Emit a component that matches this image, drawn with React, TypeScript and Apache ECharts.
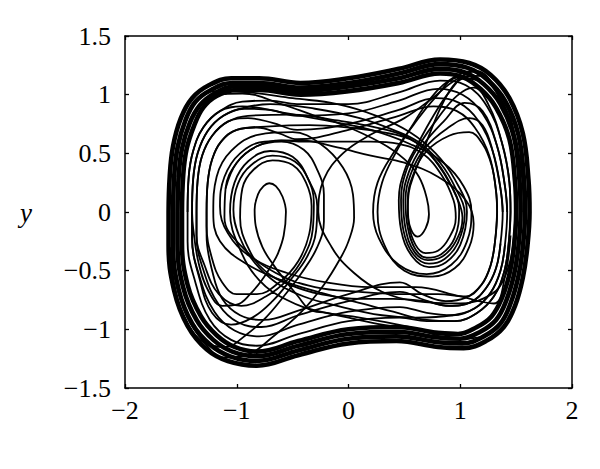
import React, { useEffect, useRef } from "react";
import * as echarts from "echarts";

type Pt = [number, number];

const xTicks = [-2, -1, 0, 1, 2];
const yTicks = [-1.5, -1, -0.5, 0, 0.5, 1, 1.5];
const axisYName = "y";

// outer band strands
const band0: Pt[] = [[-1.61,0],[-1.6,0.3],[-1.57,0.56],[-1.5,0.8],[-1.4,0.97],[-1.25,1.08],[-1.05,1.14],[-0.8,1.14],[-0.43,1.1],[0,1.14],[0.45,1.22],[0.82,1.3],[1.08,1.27],[1.27,1.17],[1.44,0.97],[1.56,0.67],[1.61,0.28],[1.62,0],[1.6,-0.3],[1.56,-0.56],[1.49,-0.8],[1.39,-0.98],[1.23,-1.1],[1.03,-1.16],[0.8,-1.15],[0.43,-1.1],[0,-1.12],[-0.45,-1.22],[-0.82,-1.31],[-1.08,-1.27],[-1.27,-1.17],[-1.44,-0.97],[-1.56,-0.67],[-1.61,-0.28],[-1.61,0]];
const band1: Pt[] = [[-1.57,0],[-1.56,0.3],[-1.53,0.55],[-1.46,0.78],[-1.37,0.94],[-1.23,1.04],[-1.04,1.1],[-0.8,1.1],[-0.43,1.06],[0,1.1],[0.45,1.18],[0.82,1.26],[1.06,1.23],[1.24,1.13],[1.4,0.95],[1.52,0.66],[1.57,0.28],[1.58,0],[1.56,-0.3],[1.52,-0.55],[1.45,-0.78],[1.36,-0.95],[1.21,-1.06],[1.02,-1.12],[0.8,-1.11],[0.43,-1.06],[0,-1.08],[-0.45,-1.18],[-0.82,-1.27],[-1.06,-1.23],[-1.24,-1.13],[-1.4,-0.95],[-1.52,-0.66],[-1.57,-0.28],[-1.57,0]];
const band2: Pt[] = [[-1.53,0],[-1.52,0.3],[-1.49,0.54],[-1.42,0.76],[-1.33,0.91],[-1.2,1.01],[-1.02,1.07],[-0.8,1.07],[-0.43,1.03],[0,1.07],[0.45,1.14],[0.82,1.22],[1.04,1.19],[1.21,1.09],[1.36,0.92],[1.48,0.64],[1.53,0.27],[1.54,0],[1.52,-0.3],[1.48,-0.54],[1.41,-0.76],[1.32,-0.92],[1.18,-1.02],[1.0,-1.08],[0.8,-1.07],[0.43,-1.02],[0,-1.04],[-0.45,-1.14],[-0.82,-1.23],[-1.04,-1.19],[-1.21,-1.09],[-1.36,-0.92],[-1.48,-0.64],[-1.53,-0.27],[-1.53,0]];
const band3: Pt[] = [[-1.49,0],[-1.48,0.3],[-1.45,0.53],[-1.38,0.74],[-1.3,0.89],[-1.18,0.99],[-1.0,1.04],[-0.8,1.04],[-0.43,1.0],[0,1.03],[0.45,1.1],[0.82,1.18],[1.02,1.15],[1.18,1.05],[1.32,0.89],[1.44,0.62],[1.49,0.26],[1.5,0],[1.48,-0.3],[1.44,-0.53],[1.37,-0.74],[1.28,-0.89],[1.15,-0.98],[0.98,-1.04],[0.8,-1.03],[0.43,-0.98],[0,-1.0],[-0.45,-1.1],[-0.82,-1.19],[-1.02,-1.15],[-1.18,-1.05],[-1.32,-0.89],[-1.44,-0.62],[-1.49,-0.26],[-1.49,0]];

// middle wavy strands
const mid1: Pt[] = [[-1.44,0],[-1.43,0.3],[-1.39,0.52],[-1.3,0.72],[-1.15,0.86],[-0.95,0.94],[-0.7,0.95],[-0.46,0.92],[0,0.92],[0.45,1.02],[0.82,1.12],[1.05,1.08],[1.24,0.9],[1.37,0.6],[1.44,0.25],[1.45,0],[1.43,-0.3],[1.39,-0.52],[1.3,-0.72],[1.15,-0.86],[0.95,-0.93],[0.7,-0.93],[0.46,-0.9],[0,-0.93],[-0.45,-1.04],[-0.82,-1.14],[-1.05,-1.09],[-1.24,-0.92],[-1.37,-0.6],[-1.44,-0.25],[-1.44,0]];
const mid2: Pt[] = [[-1.4,0],[-1.39,0.28],[-1.35,0.5],[-1.26,0.69],[-1.12,0.82],[-0.93,0.88],[-0.7,0.87],[-0.46,0.82],[0,0.84],[0.45,0.95],[0.8,1.05],[1.02,1.0],[1.2,0.84],[1.33,0.56],[1.4,0.22],[1.42,0],[1.4,-0.28],[1.36,-0.5],[1.27,-0.69],[1.13,-0.82],[0.93,-0.88],[0.7,-0.86],[0.46,-0.81],[0,-0.85],[-0.45,-0.96],[-0.8,-1.06],[-1.02,-1.01],[-1.2,-0.85],[-1.33,-0.56],[-1.4,-0.22],[-1.4,0]];
const mid3: Pt[] = [[-1.36,0],[-1.35,0.27],[-1.31,0.48],[-1.22,0.65],[-1.08,0.77],[-0.9,0.8],[-0.68,0.76],[-0.46,0.7],[0,0.75],[0.45,0.87],[0.78,0.97],[0.99,0.93],[1.16,0.78],[1.29,0.52],[1.36,0.2],[1.38,0],[1.36,-0.27],[1.32,-0.48],[1.23,-0.65],[1.09,-0.77],[0.9,-0.8],[0.68,-0.75],[0.46,-0.68],[0,-0.76],[-0.45,-0.88],[-0.78,-0.98],[-0.99,-0.94],[-1.16,-0.79],[-1.29,-0.52],[-1.36,-0.2],[-1.36,0]];
const mid4: Pt[] = [[-1.27,0],[-1.26,0.25],[-1.22,0.45],[-1.14,0.6],[-1.0,0.7],[-0.82,0.72],[-0.62,0.67],[-0.46,0.62],[0,0.7],[0.45,0.82],[0.76,0.9],[0.97,0.86],[1.13,0.72],[1.26,0.48],[1.32,0.18],[1.33,0],[1.31,-0.26],[1.27,-0.46],[1.19,-0.62],[1.05,-0.73],[0.87,-0.76],[0.66,-0.7],[0.46,-0.6],[0,-0.7],[-0.45,-0.84],[-0.76,-0.92],[-0.97,-0.88],[-1.13,-0.74],[-1.22,-0.5],[-1.27,-0.2],[-1.27,0]];

// right well loops
const right0: Pt[] = [[-1.53,0.3],[-1.49,0.54],[-1.42,0.76],[-1.33,0.91],[-1.18,1.0],[-0.95,1.01],[-0.6,0.92],[-0.3,0.82],[-0.07,0.75],[0.29,0.59],[0.5,0.45],[0.63,0.3],[0.7,0.12],[0.72,-0.02],[0.69,-0.14],[0.62,-0.21],[0.56,-0.15],[0.53,0],[0.54,0.17],[0.59,0.33],[0.66,0.5],[0.74,0.7],[0.84,0.92],[0.96,1.1],[1.12,1.2],[1.27,1.12],[1.42,0.9],[1.5,0.55],[1.53,0.2],[1.54,0]];
const right1: Pt[] = [[-1.56,0.3],[-1.52,0.55],[-1.45,0.78],[-1.36,0.95],[-1.2,1.03],[-0.9,1.02],[-0.5,0.97],[-0.1,0.92],[0.25,0.82],[0.55,0.68],[0.78,0.5],[0.95,0.28],[1.06,0],[1.0,-0.28],[0.87,-0.43],[0.72,-0.47],[0.57,-0.38],[0.47,-0.15],[0.45,0.1],[0.5,0.35],[0.62,0.58],[0.76,0.82],[0.9,1.02],[1.04,1.14],[1.2,1.1],[1.36,0.92],[1.48,0.64],[1.53,0.27],[1.54,0]];
const right2: Pt[] = [[-1.4,0],[-1.39,0.28],[-1.35,0.5],[-1.26,0.69],[-1.12,0.82],[-0.93,0.89],[-0.7,0.92],[-0.3,0.88],[0.1,0.8],[0.4,0.7],[0.62,0.6],[0.82,0.42],[0.96,0.2],[1.04,-0.02],[0.98,-0.26],[0.86,-0.4],[0.72,-0.44],[0.58,-0.36],[0.49,-0.15],[0.47,0.1],[0.52,0.36],[0.64,0.58],[0.8,0.8],[0.97,0.99],[1.12,1.06],[1.25,0.92],[1.37,0.6],[1.44,0.25],[1.45,0]];
const right3: Pt[] = [[-1.36,0],[-1.35,0.27],[-1.31,0.48],[-1.22,0.65],[-1.08,0.77],[-0.9,0.82],[-0.5,0.83],[-0.1,0.78],[0.25,0.72],[0.5,0.65],[0.7,0.52],[0.86,0.32],[0.98,0.1],[1.02,-0.05],[0.96,-0.25],[0.84,-0.38],[0.71,-0.41],[0.59,-0.34],[0.51,-0.14],[0.49,0.1],[0.54,0.34],[0.66,0.56],[0.85,0.77],[1.04,0.93],[1.2,0.86],[1.33,0.56],[1.4,0.22],[1.42,0]];
const right4: Pt[] = [[-1.27,0],[-1.26,0.25],[-1.22,0.45],[-1.14,0.6],[-1.0,0.7],[-0.7,0.73],[-0.35,0.74],[0,0.72],[0.3,0.68],[0.55,0.62],[0.74,0.48],[0.9,0.26],[0.99,0.02],[0.95,-0.22],[0.83,-0.36],[0.7,-0.39],[0.6,-0.32],[0.53,-0.13],[0.51,0.1],[0.56,0.33],[0.68,0.54],[0.88,0.71],[1.08,0.8],[1.2,0.74],[1.29,0.52],[1.36,0.2],[1.38,0]];
const right5: Pt[] = [[-1.1,0.2],[-1.0,0.42],[-0.82,0.56],[-0.6,0.61],[-0.4,0.6],[-0.1,0.6],[0.2,0.6],[0.45,0.58],[0.66,0.5],[0.83,0.32],[0.94,0.1],[0.96,-0.05],[0.9,-0.22],[0.8,-0.33],[0.69,-0.35],[0.6,-0.28],[0.54,-0.1],[0.53,0.1],[0.58,0.32],[0.7,0.52],[0.9,0.65],[1.08,0.68],[1.2,0.58],[1.28,0.4],[1.32,0.18],[1.33,0]];
const right6: Pt[] = [[-1.44,0],[-1.43,0.3],[-1.39,0.52],[-1.3,0.72],[-1.15,0.86],[-0.95,0.9],[-0.6,0.85],[-0.2,0.78],[0.2,0.7],[0.55,0.58],[0.85,0.42],[1.03,0.22],[1.1,0],[1.06,-0.25],[0.92,-0.45],[0.7,-0.53],[0.45,-0.45],[0.27,-0.22],[0.22,0],[0.26,0.25],[0.4,0.5],[0.58,0.74],[0.78,0.98],[0.98,1.15],[1.18,1.16],[1.36,0.95],[1.48,0.62],[1.53,0.25],[1.54,0]];
const right7: Pt[] = [[1.5,0.2],[1.47,-0.3],[1.4,-0.55],[1.28,-0.7],[1.0,-0.78],[0.6,-0.76],[0.3,-0.68],[0.05,-0.52],[-0.15,-0.3],[-0.27,0],[-0.22,0.28],[-0.05,0.5],[0.2,0.66],[0.5,0.8],[0.75,0.97],[0.95,1.12],[1.15,1.2],[1.33,1.02],[1.46,0.7],[1.53,0.3],[1.55,0]];

// left well loops
const left0: Pt[] = [[1.5,0],[1.48,-0.3],[1.44,-0.53],[1.37,-0.74],[1.28,-0.89],[1.15,-0.98],[0.98,-1.03],[0.6,-1.0],[0.3,-0.96],[0.0,-0.9],[-0.2,-0.86],[-0.35,-0.83],[-0.45,-0.72],[-0.57,-0.58],[-0.68,-0.44],[-0.77,-0.3],[-0.83,-0.12],[-0.84,0.02],[-0.81,0.15],[-0.76,0.22],[-0.71,0.245],[-0.65,0.22],[-0.59,0.13],[-0.56,0],[-0.58,-0.2],[-0.63,-0.35],[-0.68,-0.44],[-0.76,-0.56],[-0.88,-0.7],[-1.0,-0.79],[-1.13,-0.8],[-1.25,-0.68],[-1.34,-0.44],[-1.39,-0.14],[-1.4,0]];
const left1: Pt[] = [[1.56,-0.3],[1.52,-0.55],[1.45,-0.78],[1.36,-0.95],[1.21,-1.06],[1.0,-1.08],[0.5,-0.97],[0.1,-0.9],[-0.25,-0.85],[-0.55,-0.75],[-0.8,-0.58],[-0.97,-0.32],[-1.06,0],[-1.02,0.25],[-0.9,0.43],[-0.7,0.52],[-0.5,0.47],[-0.37,0.3],[-0.31,0.08],[-0.32,-0.15],[-0.4,-0.38],[-0.55,-0.58],[-0.74,-0.72],[-0.96,-0.8],[-1.16,-0.7],[-1.29,-0.45],[-1.36,-0.2],[-1.36,0]];
const left2: Pt[] = [[1.4,-0.28],[1.36,-0.5],[1.27,-0.69],[1.13,-0.82],[0.93,-0.88],[0.6,-0.9],[0.3,-0.88],[-0.1,-0.8],[-0.4,-0.72],[-0.65,-0.6],[-0.85,-0.42],[-0.98,-0.2],[-1.03,0.02],[-0.99,0.24],[-0.87,0.4],[-0.68,0.48],[-0.48,0.43],[-0.35,0.26],[-0.28,0.05],[-0.29,-0.16],[-0.37,-0.38],[-0.52,-0.58],[-0.68,-0.76],[-0.86,-0.9],[-1.05,-0.96],[-1.22,-0.86],[-1.33,-0.58],[-1.4,-0.22],[-1.4,0]];
const left3: Pt[] = [[1.36,-0.27],[1.32,-0.48],[1.23,-0.65],[1.09,-0.77],[0.9,-0.8],[0.68,-0.76],[0.4,-0.74],[0.1,-0.74],[-0.25,-0.7],[-0.5,-0.63],[-0.75,-0.5],[-0.9,-0.3],[-0.97,-0.05],[-0.95,0.2],[-0.85,0.36],[-0.68,0.44],[-0.5,0.4],[-0.38,0.25],[-0.33,0.05],[-0.35,-0.18],[-0.45,-0.42],[-0.62,-0.6],[-0.82,-0.7],[-1.0,-0.7],[-1.13,-0.6],[-1.22,-0.4],[-1.27,-0.12],[-1.27,0]];
const left4: Pt[] = [[1.45,-0.2],[1.4,-0.55],[1.3,-0.78],[1.0,-0.72],[0.6,-0.64],[0.2,-0.64],[-0.2,-0.6],[-0.55,-0.52],[-0.88,-0.38],[-1.08,-0.18],[-1.15,0.05],[-1.11,0.3],[-0.97,0.5],[-0.75,0.6],[-0.43,0.61],[-0.1,0.55],[0.2,0.48],[0.5,0.42],[0.8,0.3],[1.05,0.1],[1.12,-0.1],[1.08,-0.3],[0.95,-0.48],[0.75,-0.55],[0.5,-0.5],[0.33,-0.3],[0.26,0],[0.3,0.25],[0.42,0.5],[0.56,0.72],[0.72,0.95],[0.9,1.12],[1.1,1.2],[1.3,1.05],[1.45,0.78],[1.54,0.4],[1.57,0]];
const left5: Pt[] = [[1.33,0],[1.31,-0.26],[1.27,-0.46],[1.19,-0.62],[1.05,-0.72],[0.8,-0.7],[0.5,-0.7],[0.1,-0.68],[-0.3,-0.64],[-0.65,-0.52],[-0.95,-0.3],[-1.11,-0.05],[-1.1,0.2],[-1.0,0.42],[-0.82,0.56],[-0.6,0.6],[-0.4,0.53],[-0.28,0.36],[-0.22,0.15],[-0.22,-0.08],[-0.28,-0.3],[-0.42,-0.52],[-0.58,-0.72],[-0.74,-0.9],[-0.92,-1.05],[-1.1,-1.15],[-1.28,-1.12],[-1.44,-0.95],[-1.55,-0.66],[-1.59,-0.3]];
const left6: Pt[] = [[1.45,0],[1.43,-0.3],[1.39,-0.52],[1.3,-0.72],[1.15,-0.86],[0.95,-0.93],[0.7,-0.92],[0.4,-0.85],[0.2,-0.8],[-0.2,-0.7],[-0.55,-0.6],[-0.9,-0.45],[-1.15,-0.25],[-1.21,0],[-1.18,0.3],[-1.05,0.52],[-0.8,0.66],[-0.5,0.68],[-0.25,0.58],[-0.05,0.38],[0.04,0.15],[0.05,-0.05],[0,-0.25],[-0.07,-0.39],[-0.22,-0.62],[-0.42,-0.85],[-0.66,-1.05],[-0.92,-1.22],[-1.12,-1.24],[-1.3,-1.1],[-1.45,-0.88],[-1.54,-0.6],[-1.58,-0.3]];

const bandStrands = [band0, band1, band2, band3];
const otherStrands = [mid1, mid2, mid3, mid4, right0, right1, right2, right3, right4, right5, right6, right7, left0, left1, left2, left3, left4, left5, left6];

const FONT = '"Liberation Serif", "Times New Roman", serif';

function fmt(v: number): string {
  const s = String(Math.abs(v));
  return v < 0 ? "\u2212" + s : s;
}

export default function App() {
  const ref = useRef<HTMLDivElement>(null);
  useEffect(() => {
    if (!ref.current) return;
    const chart = echarts.init(ref.current, undefined, { renderer: "svg" });
    const axisCommon = {
      type: "value" as const,
      axisLine: { show: true, onZero: false, lineStyle: { color: "#000", width: 1.5 } },
      axisTick: { show: true, inside: true, length: 4, lineStyle: { color: "#000", width: 1.3 } },
      splitLine: { show: false },
    };
    const series: any[] = [];
    bandStrands.forEach((d, i) =>
      series.push({
        type: "line", data: d, showSymbol: false, smooth: 0.4, silent: true,
        lineStyle: { color: "#000", width: 4.6 }, name: "band" + i,
      })
    );
    otherStrands.forEach((d, i) =>
      series.push({
        type: "line", data: d, showSymbol: false, smooth: 0.4, silent: true,
        lineStyle: { color: "#000", width: 1.8 }, name: "s" + i,
      })
    );
    chart.setOption({
      animation: false,
      backgroundColor: "#fff",
      grid: { left: 125, right: 28, top: 36, bottom: 81 },
      xAxis: [
        { ...axisCommon, position: "bottom", min: xTicks[0], max: xTicks[xTicks.length - 1], interval: 1,
          axisLabel: { show: true, formatter: fmt, color: "#000", fontFamily: FONT, fontSize: 26, margin: 9 } },
        { ...axisCommon, position: "top", min: xTicks[0], max: xTicks[xTicks.length - 1], interval: 1,
          axisLabel: { show: false } },
      ],
      yAxis: [
        { ...axisCommon, position: "left", min: yTicks[0], max: yTicks[yTicks.length - 1], interval: 0.5,
          axisLabel: { show: true, formatter: fmt, color: "#000", fontFamily: FONT, fontSize: 26, margin: 14 } },
        { ...axisCommon, position: "right", min: yTicks[0], max: yTicks[yTicks.length - 1], interval: 0.5,
          axisLabel: { show: false } },
      ],
      graphic: [
        { type: "text", left: 20, top: 199, style: { text: axisYName, font: 'italic 27px "Liberation Serif"', fill: "#000" } },
      ],
      series,
    });
    return () => chart.dispose();
  }, []);
  return <div ref={ref} style={{ position: "absolute", left: 0, top: 0, width: 600, height: 469 }} />;
}
